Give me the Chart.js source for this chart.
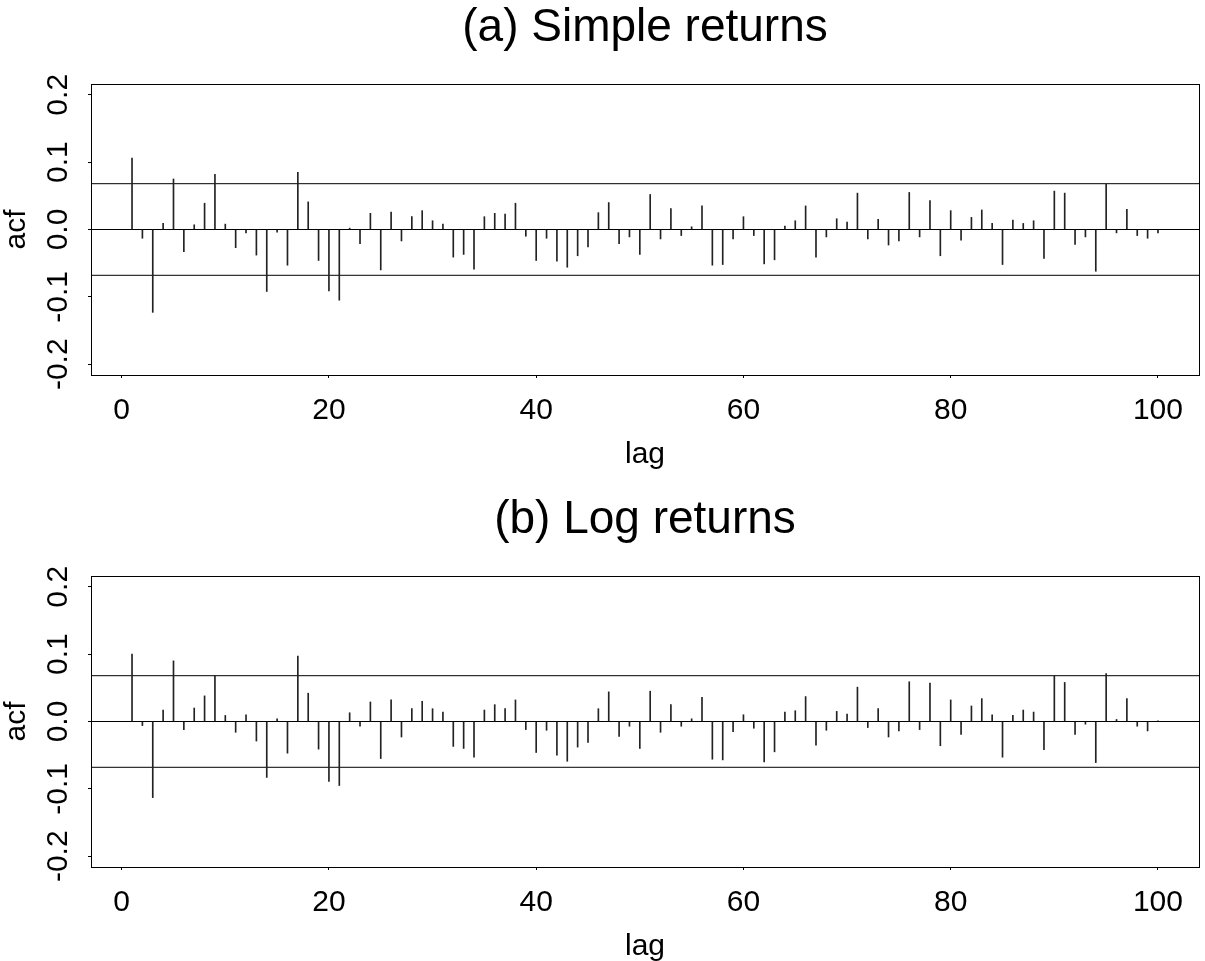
<!DOCTYPE html>
<html>
<head>
<meta charset="utf-8">
<script src="https://cdn.jsdelivr.net/npm/chart.js@4.4.0/dist/chart.umd.min.js"></script>
<style>
  body { margin: 0; background: #fff; width: 1205px; height: 961px; position: relative; overflow: hidden; }
  .panel { position: absolute; left: 0; width: 1205px; height: 469px; }
</style>
</head>
<body>
<div class="panel" style="top:0"><canvas id="chartA" width="1205" height="469"></canvas></div>
<div class="panel" style="top:492px"><canvas id="chartB" width="1205" height="469"></canvas></div>
<script>
// lags 1..100
const lags = [1, 2, 3, 4, 5, 6, 7, 8, 9, 10, 11, 12, 13, 14, 15, 16, 17, 18, 19, 20,
  21, 22, 23, 24, 25, 26, 27, 28, 29, 30, 31, 32, 33, 34, 35, 36, 37, 38, 39, 40,
  41, 42, 43, 44, 45, 46, 47, 48, 49, 50, 51, 52, 53, 54, 55, 56, 57, 58, 59, 60,
  61, 62, 63, 64, 65, 66, 67, 68, 69, 70, 71, 72, 73, 74, 75, 76, 77, 78, 79, 80,
  81, 82, 83, 84, 85, 86, 87, 88, 89, 90, 91, 92, 93, 94, 95, 96, 97, 98, 99, 100];

// (a) acf of simple returns
const simpleAcf = [0.106, -0.013, -0.123, 0.009, 0.075, -0.033, 0.007, 0.039, 0.082, 0.008,
  -0.027, -0.005, -0.038, -0.092, -0.004, -0.053, 0.085, 0.041, -0.046, -0.091,
  -0.105, 0.002, -0.021, 0.024, -0.060, 0.026, -0.017, 0.019, 0.028, 0.013,
  0.008, -0.041, -0.037, -0.059, 0.019, 0.024, 0.023, 0.039, -0.010, -0.046,
  -0.013, -0.047, -0.056, -0.039, -0.026, 0.025, 0.040, -0.021, -0.011, -0.037,
  0.052, -0.014, 0.031, -0.009, 0.004, 0.035, -0.053, -0.052, -0.014, 0.019,
  -0.009, -0.051, -0.045, 0.005, 0.013, 0.035, -0.041, -0.011, 0.016, 0.011,
  0.054, -0.014, 0.015, -0.023, -0.017, 0.055, -0.011, 0.043, -0.039, 0.028,
  -0.016, 0.018, 0.029, 0.009, -0.052, 0.014, 0.009, 0.013, -0.043, 0.057,
  0.054, -0.022, -0.011, -0.062, 0.067, -0.005, 0.030, -0.009, -0.013, -0.005];

// (b) acf of log returns
const logAcf = [0.100, -0.006, -0.113, 0.017, 0.090, -0.012, 0.020, 0.038, 0.068, 0.009,
  -0.016, 0.010, -0.029, -0.083, 0.004, -0.047, 0.097, 0.042, -0.041, -0.089,
  -0.095, 0.013, -0.007, 0.029, -0.055, 0.032, -0.023, 0.019, 0.030, 0.019,
  0.014, -0.037, -0.040, -0.053, 0.017, 0.025, 0.019, 0.032, -0.012, -0.046,
  -0.013, -0.050, -0.059, -0.038, -0.031, 0.019, 0.044, -0.022, -0.007, -0.040,
  0.045, -0.016, 0.025, -0.007, 0.004, 0.036, -0.056, -0.057, -0.015, 0.010,
  -0.010, -0.060, -0.045, 0.014, 0.016, 0.037, -0.035, -0.013, 0.015, 0.011,
  0.051, -0.009, 0.019, -0.023, -0.014, 0.059, -0.012, 0.057, -0.036, 0.032,
  -0.019, 0.023, 0.034, 0.010, -0.053, 0.009, 0.017, 0.014, -0.042, 0.068,
  0.058, -0.019, -0.004, -0.061, 0.071, 0.003, 0.034, -0.007, -0.014, 0.001];

// horizontal reference lines: upper band, zero, lower band
const bandLevels = [0.068, 0, -0.068];

const xTicks = [0, 20, 40, 60, 80, 100];
const yTicks = [-0.2, -0.1, 0.0, 0.1, 0.2];
const xRange = [-2.96, 103.96];
const yRange = [-0.216, 0.216];

const FONT = "'Liberation Sans', Arial, Helvetica, sans-serif";

// frame round the plot region
const plotBox = {
    id: 'plotBox',
    afterDraw(chart) {
        const a = chart.chartArea;
        const ctx = chart.ctx;
        ctx.save();
        ctx.strokeStyle = '#000';
        ctx.lineWidth = 1;
        ctx.strokeRect(Math.round(a.left) + 0.5, Math.round(a.top) + 0.5,
            Math.round(a.right - a.left), Math.round(a.bottom - a.top));
        ctx.restore();
    }
};

function buildChart(id, title, values) {
    const stems = lags.map((lag, i) => ({ x: lag, y: values[i] }));
    const refLines = bandLevels.map(level => ({
        type: 'line',
        data: xRange.map(x => ({ x: x, y: level })),
        borderColor: '#000',
        borderWidth: 1,
        pointRadius: 0,
        fill: false
    }));

    return new Chart(document.getElementById(id), {
        type: 'bar',
        data: {
            datasets: [{
                data: stems,
                backgroundColor: '#222',
                borderWidth: 0,
                barThickness: 1
            }].concat(refLines)
        },
        options: {
            responsive: false,
            animation: false,
            devicePixelRatio: 1,
            layout: { padding: { left: 0, right: 6, top: 0, bottom: 0 } },
            plugins: { legend: { display: false }, tooltip: { enabled: false } },
            scales: {
                x: {
                    type: 'linear',
                    min: xRange[0],
                    max: xRange[1],
                    offset: false,
                    grid: { offset: false, drawOnChartArea: false, drawTicks: true, tickLength: 3, color: '#000' },
                    border: { display: false },
                    ticks: {
                        font: { family: FONT, size: 30 },
                        color: '#000',
                        padding: 15,
                        maxRotation: 0,
                        autoSkip: false
                    },
                    afterBuildTicks(s) { s.ticks = xTicks.map(v => ({ value: v })); },
                    title: {
                        display: true, text: 'lag', color: '#000',
                        font: { family: FONT, size: 30, lineHeight: 1 },
                        padding: { top: 0, bottom: -1 }
                    },
                    afterFit(s) { s.height = 94; }
                },
                top: {
                    type: 'linear',
                    position: 'top',
                    min: xRange[0],
                    max: xRange[1],
                    ticks: { display: false },
                    grid: { display: false, drawTicks: false },
                    border: { display: false },
                    title: {
                        display: true, text: title, color: '#000',
                        font: { family: FONT, size: 46, lineHeight: 1.2 },
                        padding: { top: 1, bottom: 0 }
                    },
                    afterFit(s) { s.height = 84; }
                },
                y: {
                    type: 'linear',
                    min: yRange[0],
                    max: yRange[1],
                    grid: { drawOnChartArea: false, drawTicks: true, tickLength: 3, color: '#000' },
                    border: { display: false },
                    ticks: {
                        font: { family: FONT, size: 30 },
                        color: '#000',
                        minRotation: 90,
                        maxRotation: 90,
                        crossAlign: 'center',
                        padding: 3,
                        callback: v => v.toFixed(1)
                    },
                    afterBuildTicks(s) { s.ticks = yTicks.map(v => ({ value: v })); },
                    title: {
                        display: true, text: 'acf', color: '#000',
                        font: { family: FONT, size: 30, lineHeight: 1 },
                        padding: { top: 2, bottom: 0 }
                    },
                    afterFit(s) { s.width = 91; }
                }
            }
        },
        plugins: [plotBox]
    });
}

buildChart('chartA', '(a) Simple returns', simpleAcf);
buildChart('chartB', '(b) Log returns', logAcf);
</script>
</body>
</html>
